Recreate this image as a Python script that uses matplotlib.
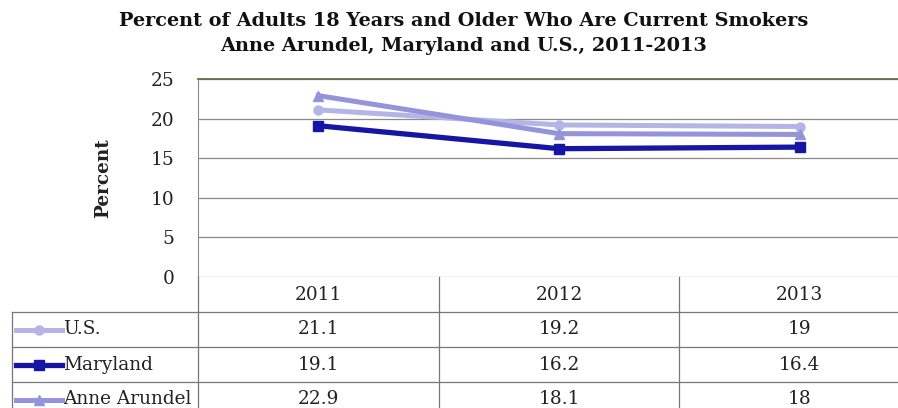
import matplotlib
matplotlib.use("Agg")
import matplotlib.pyplot as plt
from matplotlib.lines import Line2D
from matplotlib.transforms import blended_transform_factory

years = ["2011", "2012", "2013"]
us = [21.1, 19.2, 19]
maryland = [19.1, 16.2, 16.4]
anne_arundel = [22.9, 18.1, 18]
series_names = ["U.S.", "Maryland", "Anne Arundel"]
series_values = [us, maryland, anne_arundel]
y_ticks = [0, 5, 10, 15, 20, 25]

colors = ["#b4b4e6", "#1616a4", "#9494da"]
markers = ["o", "s", "^"]
msizes = [6.5, 7.5, 7]
lws = [3.6, 3.8, 3.6]

W, H = 898, 408
fig = plt.figure(figsize=(W / 100, H / 100), dpi=100)
plt.rcParams['font.family'] = ['DejaVu Serif']
FS = 13.3
TXT = "#222222"

def fx(px):
    return px / W

def fy(py):
    return 1 - py / H

ax_l, ax_r, ax_t, ax_b = 198, 920, 79, 277
ax = fig.add_axes([fx(ax_l), fy(ax_b), fx(ax_r - ax_l), (ax_b - ax_t) / H])
xs = list(range(len(years)))
for name, vals, c, m, ms, lw in zip(series_names, series_values, colors, markers, msizes, lws):
    ax.plot(xs, vals, color=c, marker=m, markersize=ms, lw=lw, zorder=3 if name == "Maryland" else 2)

ax.set_xlim(-0.5, len(years) - 0.5)
ax.set_ylim(0, 25)
ax.set_yticks(y_ticks)
ax.set_yticklabels([str(t) for t in y_ticks], fontsize=FS, color=TXT)
ax.set_xticks([])
ax.grid(axis="y", color="#8a8a8a", lw=0.9)
ax.tick_params(axis="y", length=0, pad=17)
for s in ["right", "bottom"]:
    ax.spines[s].set_visible(False)
ax.spines["top"].set_color("#6b6b4a")
ax.spines["top"].set_linewidth(1.3)
ax.spines["left"].set_color("#8a8a8a")
ax.set_ylabel("Percent", fontsize=FS, fontweight="bold", color=TXT, labelpad=28)

# Title
fig.text(fx(464), fy(21), "Percent of Adults 18 Years and Older Who Are Current Smokers",
         ha="center", va="center", fontsize=13.9, fontweight="bold", color="#111111")
fig.text(fx(464), fy(46), "Anne Arundel, Maryland and U.S., 2011-2013",
         ha="center", va="center", fontsize=13.9, fontweight="bold", color="#111111")

# Data table
bt = blended_transform_factory(ax.transData, fig.transFigure)
line_c = "#777777"
rows_y = [277, 312, 347, 382, 417]
for xb in [-0.5, 0.5, 1.5]:
    fig.add_artist(Line2D([xb, xb], [fy(277), fy(408)], transform=bt, color=line_c, lw=0.9))
fig.add_artist(Line2D([fx(12), fx(12)], [fy(312), fy(408)], transform=fig.transFigure, color=line_c, lw=0.9))
for yb in rows_y[1:4]:
    fig.add_artist(Line2D([fx(12), 1], [fy(yb), fy(yb)], transform=fig.transFigure, color=line_c, lw=0.9))

for i, y in enumerate(years):
    fig.text(i, fy((277 + 312) / 2), y, transform=bt, ha="center", va="center",
             fontsize=FS, color=TXT)

for r, (name, vals, c, m, ms, lw) in enumerate(zip(series_names, series_values, colors, markers, msizes, lws)):
    yc = (rows_y[r + 1] + rows_y[r + 2]) / 2
    fig.add_artist(Line2D([fx(16), fx(62)], [fy(yc), fy(yc)], transform=fig.transFigure,
                          color=c, lw=lw))
    fig.add_artist(Line2D([fx(39)], [fy(yc)], transform=fig.transFigure,
                          color=c, lw=0, marker=m, markersize=ms))
    fig.text(fx(63), fy(yc), name, ha="left", va="center", fontsize=FS, color=TXT)
    for i, v in enumerate(vals):
        fig.text(i, fy(yc), f"{v:g}", transform=bt, ha="center", va="center",
                 fontsize=FS, color=TXT)

fig.savefig("out.png", dpi=100, facecolor="white")
